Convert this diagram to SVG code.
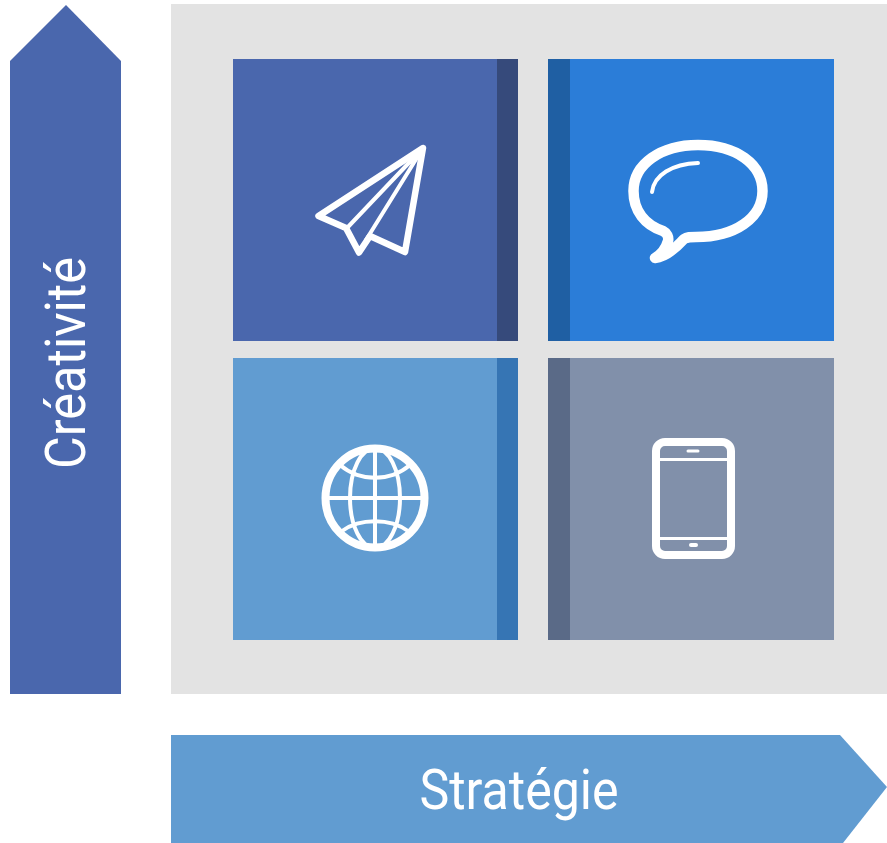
<svg xmlns="http://www.w3.org/2000/svg" width="887" height="843" viewBox="0 0 887 843">
<style>
.lbl{font-family:Roboto,"Liberation Sans",sans-serif;font-size:56px;fill:#fff;text-anchor:middle}
.ic{fill:none;stroke:#fff;stroke-linecap:round;stroke-linejoin:round}
</style>
<rect width="887" height="843" fill="#fff"/>
<rect id="matrix-bg" x="171" y="4" width="716" height="690" fill="#e3e3e3"/>
<g id="axis-y">
<polygon points="10,694 10,61 66,5 121,61 121,694" fill="#4a67ad"/>
<text class="lbl" transform="translate(85,363) rotate(-90) scale(.9,1)">Créativité</text>
</g>
<g id="axis-x">
<polygon points="171,735 840,735 887,787 843,843 171,843" fill="#619cd1"/>
<text class="lbl" transform="translate(519,809) scale(.895,1)">Stratégie</text>
</g>
<g id="q1">
<rect x="233" y="59" width="285" height="282" fill="#4a67ad"/>
<rect x="497" y="59" width="21" height="282" fill="#364a7b"/>
<g class="ic">
<polygon points="423,148 318.500,216 346,228 359,252.500 370,236 405,252" stroke-width="6.500"/>
<path d="M423,148 L347,228 M423,148 L366,240" stroke-width="4"/>
</g>
</g>
<g id="q2">
<rect x="548" y="59" width="286" height="282" fill="#2b7dd8"/>
<rect x="548" y="59" width="22" height="282" fill="#1f5fa3"/>
<g class="ic">
<path d="M698,145C661,145 633.500,164 633.500,191C633.500,211 645,225 663,231C667,233 669,237 668,241C666,248 662,254 655,258C664,257 674,250 684,239C687,237 690,237 696,237C735,237 762.500,218 762.500,191C762.500,164 736,145 698,145Z" stroke-width="10.500"/>
<path d="M652,192C654,175 672,164 698,163" stroke-width="4"/>
</g>
</g>
<g id="q3">
<rect x="233" y="358" width="285" height="282" fill="#619cd1"/>
<rect x="497" y="358" width="21" height="282" fill="#3675b4"/>
<g class="ic">
<circle cx="375" cy="498" r="49.500" stroke-width="8"/>
<path d="M375,448V548M325,498H425" stroke-width="4"/>
<ellipse cx="375" cy="498" rx="25" ry="50" stroke-width="4"/>
<path d="M340,465C360,482 390,482 410,465M342,531C360,518 390,518 408,531" stroke-width="4"/>
</g>
</g>
<g id="q4">
<rect x="548" y="358" width="286" height="282" fill="#8190aa"/>
<rect x="548" y="358" width="22" height="282" fill="#5a6a87"/>
<g class="ic">
<rect x="656" y="442" width="75" height="113" rx="9" stroke-width="8"/>
<path d="M656,459.500H731M656,538.500H731" stroke-width="3"/>
<path d="M688,451H698" stroke-width="3"/>
<path d="M691,545H696" stroke-width="4"/>
</g>
</g>
</svg>
